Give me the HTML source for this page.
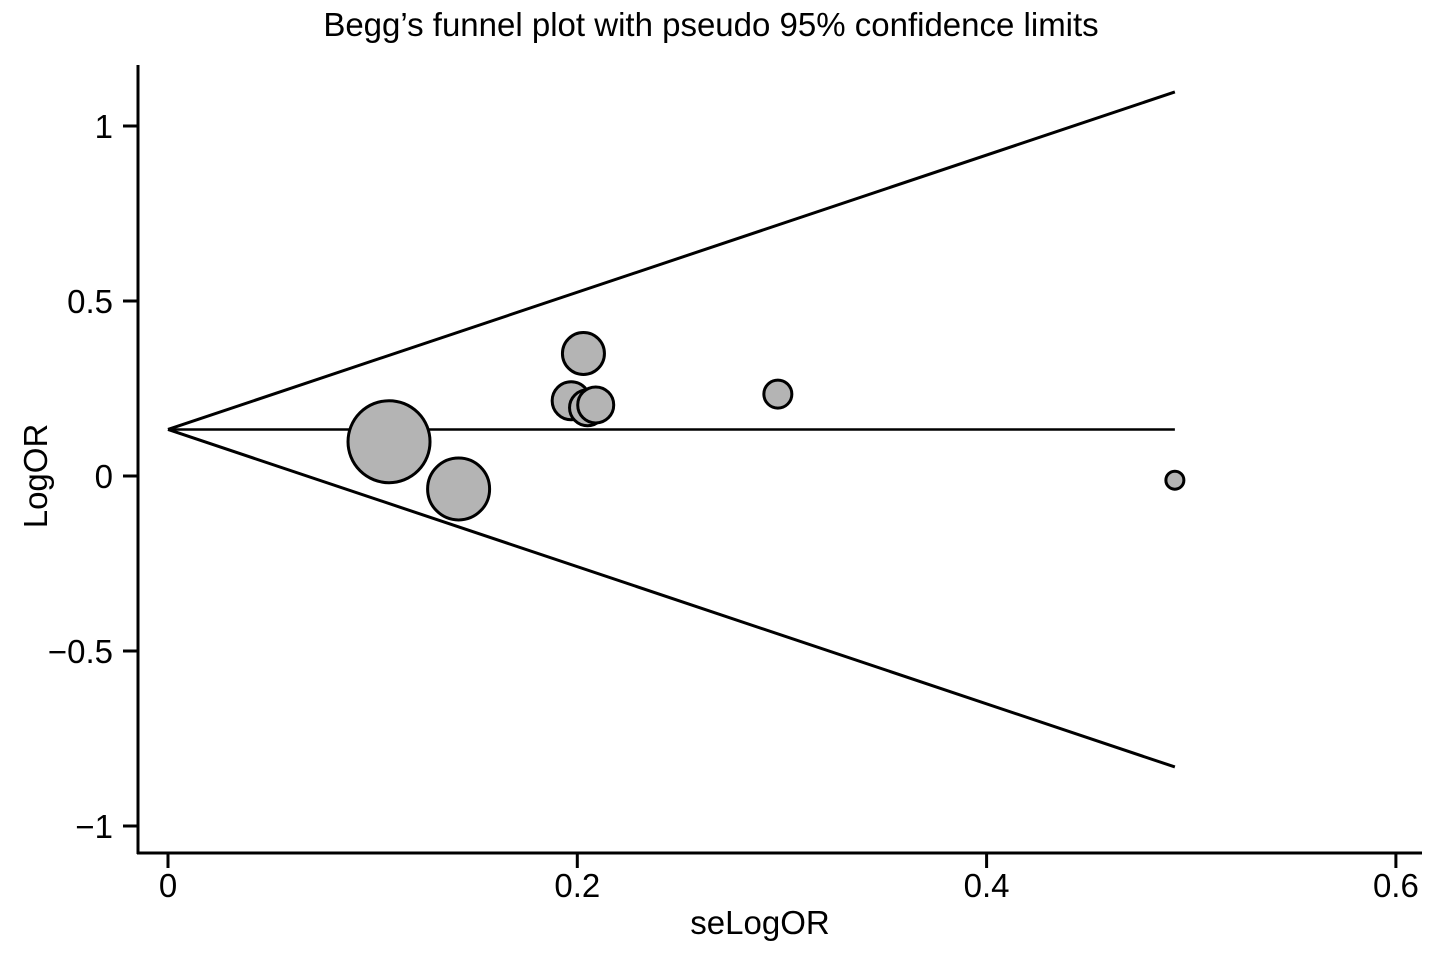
<!DOCTYPE html>
<html><head><meta charset="utf-8"><style>
html,body{margin:0;padding:0;background:#fff;}
svg{display:block;font-family:"Liberation Sans",Arial,sans-serif;}
</style></head><body>
<svg id="chart" width="1441" height="954" viewBox="0 0 1441 954">
<text x="711" y="36" text-anchor="middle" font-size="33" fill="#000">Begg’s funnel plot with pseudo 95% confidence limits</text>
<g id="axes"></g><g id="funnel"></g><g id="points"></g>
<text x="760" y="934" text-anchor="middle" font-size="33">seLogOR</text>
<text transform="translate(47,476) rotate(-90)" text-anchor="middle" font-size="33">LogOR</text>
</svg>
<script>
const xTicks=[0,0.2,0.4,0.6];
const xTickLabels=["0","0.2","0.4","0.6"];
const yTicks=[1,0.5,0,-0.5,-1];
const yTickLabels=["1","0.5","0","\u22120.5","\u22121"];
const se=[0.108,0.142,0.203,0.197,0.205,0.209,0.298,0.492];
const logOR=[0.098,-0.037,0.35,0.215,0.195,0.203,0.234,-0.012];
const radius=[41,31,21,19,18,18,14,9];
const pooled=[0.133];
const seMax=[0.492];
const NS="http://www.w3.org/2000/svg";
const X=v=>168+v*2046.5, Y=v=>476-v*350;
function mk(tag,attrs,parent){const e=document.createElementNS(NS,tag);for(const k in attrs)e.setAttribute(k,attrs[k]);parent.appendChild(e);return e;}
const ax=document.getElementById('axes');
let l=mk('line',{x1:138,y1:65,x2:138,y2:854,stroke:'#000','stroke-width':3},ax);


l=mk('line',{x1:137,y1:853,x2:1422,y2:853,stroke:'#000','stroke-width':3},ax);


xTicks.forEach((t,i)=>{
 const tk=mk('line',{x1:X(t),y1:853,x2:X(t),y2:868,stroke:'#000','stroke-width':3},ax);
 
 
 const tx=mk('text',{x:X(t),y:897,'text-anchor':'middle','font-size':33},ax);tx.textContent=xTickLabels[i];
 
 
});
yTicks.forEach((t,i)=>{
 const tk=mk('line',{x1:123,y1:Y(t),x2:138,y2:Y(t),stroke:'#000','stroke-width':3},ax);
 
 
 const tx=mk('text',{x:113,y:Y(t)+12,'text-anchor':'end','font-size':33},ax);tx.textContent=yTickLabels[i];
 
 
});
const fg=document.getElementById('funnel');
const p=pooled[0],m=seMax[0];
let f=mk('line',{x1:X(0),y1:Y(p),x2:X(m),y2:Y(p),stroke:'#000','stroke-width':2.5},fg);


f=mk('line',{x1:X(0),y1:Y(p),x2:X(m),y2:Y(p+1.96*m),stroke:'#000','stroke-width':3},fg);


f=mk('line',{x1:X(0),y1:Y(p),x2:X(m),y2:Y(p-1.96*m),stroke:'#000','stroke-width':3},fg);


const pg=document.getElementById('points');
se.forEach((s,i)=>{
 const c=mk('circle',{cx:X(s),cy:Y(logOR[i]),r:radius[i],fill:'#b4b4b4',stroke:'#000','stroke-width':3},pg);
 
 
});
</script>
</body></html>
